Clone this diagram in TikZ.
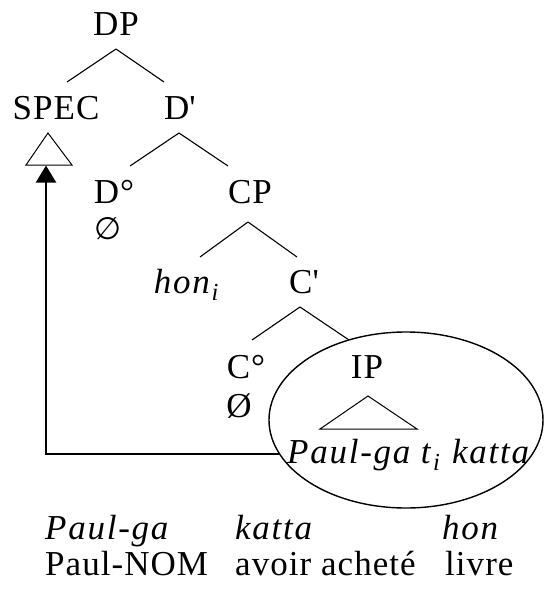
\documentclass[tikz,border=0pt]{standalone}
\usepackage{fontspec}
\setmainfont{Liberation Serif}[LetterSpace=3,ItalicFeatures={LetterSpace=5}]
\newfontfamily\symfam{DejaVu Sans}
\usetikzlibrary{shapes.geometric,arrows.meta}
\begin{document}
\begin{tikzpicture}[x=1pt,y=-1pt,
  lbl/.style={inner sep=0pt,anchor=base,font=\fontsize{35}{42}\selectfont},
  lblw/.style={inner sep=0pt,anchor=base west,font=\fontsize{35}{42}\selectfont},
  branch/.style={line width=1.1pt},
  tri/.style={line width=1pt},
  ring/.style={draw,ellipse,line width=1.4pt,inner sep=0pt,minimum width=274pt,minimum height=176pt},
  move/.style={line width=2pt,-{Triangle[width=20pt,length=17pt]}}]
\useasboundingbox (0,0) rectangle (547,589);
% tree nodes
\node[lbl] (DP) at (116,35) {DP};
\node[lbl] (SPEC) at (56,119) {SPEC};
\node[lbl] (Dbar) at (180,119) {D\textquotesingle};
\node[lbl] (Dzero) at (114,203) {D°};
\node[inner sep=0pt,font=\symfam\fontsize{31}{36}\selectfont] (Dnull) at (108,229) {∅};
\node[lbl] (CP) at (250,203) {CP};
\node[lbl] (hon) at (187,293) {\textit{hon}\textsubscript{\textit{i}}};
\node[lbl] (Cbar) at (304,293) {C\textquotesingle};
\node[lbl] (Czero) at (246,378) {C°};
\node[lbl] (Cnull) at (239,417) {Ø};
\node[lbl] (IP) at (367,378) {IP};
\node[lbl] (IPtext) at (409,463) {\textit{Paul-ga t}\textsubscript{\textit{i}}\textit{ katta}};
\node[ring] (ell) at (406,420) {};
% branches
\draw[branch] ([yshift=-14pt]DP.base) -- ([xshift=11pt,yshift=37pt]SPEC.base);
\draw[branch] ([yshift=-14pt]DP.base) -- ([xshift=-16pt,yshift=37pt]Dbar.base);
\draw[branch] ([xshift=-1pt,yshift=-14pt]Dbar.base) -- ([xshift=16pt,yshift=37pt]Dzero.base);
\draw[branch] ([xshift=-1pt,yshift=-14pt]Dbar.base) -- ([xshift=-22pt,yshift=37pt]CP.base);
\draw[branch] ([xshift=-2pt,yshift=-19pt]CP.base) -- ([xshift=13pt,yshift=36pt]hon.base);
\draw[branch] ([xshift=-2pt,yshift=-19pt]CP.base) -- ([xshift=-7pt,yshift=36pt]Cbar.base);
\draw[branch] ([xshift=-4pt,yshift=-14pt]Cbar.base) -- ([xshift=6pt,yshift=38pt]Czero.base);
\draw[branch] ([xshift=-4pt,yshift=-14pt]Cbar.base) -- ([xshift=-18pt,yshift=38pt]IP.base);
% triangles
\coordinate (spectop) at (48,133);
\coordinate (specL) at (26,165);
\coordinate (specR) at (72,165);
\coordinate (specfoot) at (46,165.5);
\draw[tri] (spectop) -- (specL) -- (specR) -- cycle;
\coordinate (iptop) at (368,396);
\coordinate (ipL) at (320,429);
\coordinate (ipR) at (417,429);
\draw[tri] (iptop) -- (ipL) -- (ipR) -- cycle;
% movement arrow
\draw[move] (ell.195.5) -| (specfoot);
% gloss
\node[lblw] (g1) at (45,539) {\textit{Paul-ga}};
\node[lblw] (g2) at (235,539) {\textit{katta}};
\node[lblw] (g3) at (442,539) {\textit{hon}};
\node[lblw] (t1) at (45,575) {Paul-NOM};
\node[lblw] (t2) at (235,575) {avoir acheté};
\node[lblw] (t3) at (445,575) {livre};
\end{tikzpicture}
\end{document}
